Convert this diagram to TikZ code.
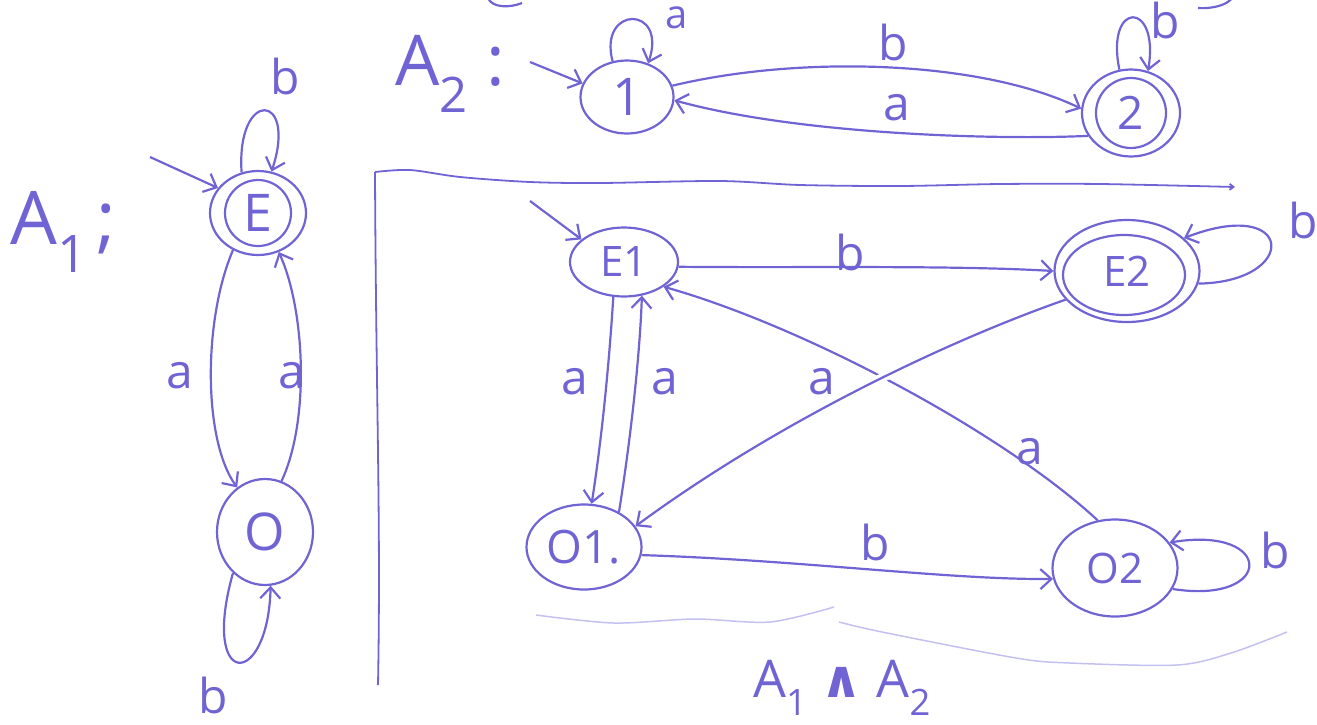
\documentclass[tikz,border=0pt]{standalone}
\usepackage{fontspec}
\setmainfont{Open Sans}
\newfontfamily\dejavu{DejaVu Sans}
\usetikzlibrary{arrows.meta,shapes.geometric}
\definecolor{hb}{RGB}{112,100,212}
\definecolor{hbl}{RGB}{196,192,240}
\begin{document}
\begin{tikzpicture}[x=1pt,y=-1pt,
  st/.style={ellipse, draw=hb, line width=2.2pt, inner sep=0pt, text=hb,
    font=\fontsize{42}{46}\selectfont},
  big/.style={font=\fontsize{52}{56}\selectfont},
  ring/.style={draw=hb, line width=2.2pt},
  edge/.style={draw=hb, line width=2.2pt, -{Straight Barb[length=11pt,width=20pt]}},
  lab/.style={text=hb, inner sep=0pt, font=\fontsize{48}{52}\selectfont},
  title/.style={text=hb, inner sep=0pt, anchor=west, font=\fontsize{74}{78}\selectfont}]
\useasboundingbox (0,0) rectangle (1317,724);

% ---------- A1 ----------
\node[title] (A1) at (10,232) {A\textsubscript{1}\hspace{0.12em};};
\node[st, big, minimum width=96, minimum height=84] (E) at (258,213) {E};
\draw[ring] (E.center) ellipse [x radius=33, y radius=33];
\node[st, big, minimum width=96, minimum height=106] (O) at (265,532) {O};
\coordinate (Ei) at (150,157);
\draw[edge] (Ei) -- (E.148);
\draw[edge] (E.112) .. controls (236,88) and (298,92) .. (E.72);
\node[lab] (lEE) at (285,76) {b};
\draw[edge] (E.236) .. controls (203,320) and (203,440) .. (O.122);
\node[lab] (lEO) at (180,376) {a};
\draw[edge] (O.72) .. controls (310,420) and (305,310) .. (E.298);
\node[lab] (lOE) at (292,376) {a};
\draw[edge] (O.232) .. controls (200,690) and (268,690) .. (O.276);
\node[lab] (lOO) at (213,695) {b};

% ---------- A2 ----------
\node[title, font=\fontsize{70}{74}\selectfont] (A2) at (395,74) {A\textsubscript{2} :};
\node[st, big, minimum width=93, minimum height=73] (S1) at (627,97) {1};
\node[st, font=\fontsize{46}{50}\selectfont, minimum width=98, minimum height=87] (S2) at (1131,113) {2};
\draw[ring] (S2.center) ellipse [x radius=35, y radius=35];
\coordinate (S1i) at (530,62);
\draw[edge] (S1i) -- (S1.163);
\draw[edge] (S1.112) .. controls (598,5) and (668,5) .. (S1.58);
\node[lab, font=\fontsize{40}{44}\selectfont] (l11) at (677,18) {a};
\draw[edge] (S1.14) .. controls (800,55) and (980,60) .. (S2.175);
\node[lab] (l12) at (893,42) {b};
\draw[edge] (S2.208) .. controls (1000,140) and (800,135) .. (S1.-4);
\node[lab] (l21) at (897,108) {a};
\draw[edge] (S2.105) .. controls (1105,0) and (1160,0) .. (S2.68);
\node[lab] (l22) at (1165,20) {b};
% cut-off strokes at the top edge
\draw[hb, line width=2.2pt] (488,-2) .. controls (492,8) and (510,8) .. (522,3);
\draw[hb, line width=2.2pt] (1198,8) .. controls (1215,9) and (1228,4) .. (1232,-2);

% ---------- divider ----------
\draw[hb, line width=1.8pt, -{Straight Barb[length=4pt,width=6pt]}] plot[smooth] coordinates
  {(375,172) (410,170) (460,177) (530,182) (600,183) (720,181) (800,185) (900,186) (1000,184) (1100,184) (1235,187)};
\draw[hb, line width=1.8pt] (375,172) .. controls (376,400) and (381,520) .. (378,685);

% ---------- product ----------
\node[st, minimum width=108, minimum height=69] (E1) at (624,262) {E1};
\node[st, font=\fontsize{46}{50}\selectfont, minimum width=115, minimum height=85] (O1) at (584,547) {O1.};
\node[st, minimum width=145, minimum height=102] (E2) at (1127,271) {E2};
\draw[ring] (1124,275) ellipse [x radius=61, y radius=40];
\node[st, minimum width=125, minimum height=97] (O2) at (1115,568) {O2};

\coordinate (E1i) at (530,201);
\draw[edge] (E1i) -- (E1.152);
\draw[edge] (E1.-5) .. controls (800,268) and (950,265) .. (E2.180);
\node[lab] (lE1E2) at (850,252) {b};
\draw[edge] (E1.253) .. controls (608,380) and (600,450) .. (O1.80);
\node[lab] (lE1O1) at (575,382) {a};
\draw[edge] (O1.45) .. controls (632,430) and (640,350) .. (E1.-62);
\node[lab] (lO1E1) at (665,382) {a};
\draw[edge] (O2.110) .. controls (1000,430) and (800,325) .. (E1.-32);
\node[lab] (lO2E1) at (1030,452) {a};
\begin{scope}
  \clip (882,377) circle (12);
  \draw[white, line width=9pt] (E2.205) .. controls (950,340) and (780,420) .. (O1.22);
\end{scope}
\draw[edge] (E2.205) .. controls (950,340) and (780,420) .. (O1.22);
\node[lab] (lE2O1) at (822,382) {a};
\draw[edge] (O1.-8) .. controls (800,560) and (950,580) .. (O2.190);
\node[lab] (lO1O2) at (875,542) {b};
\draw[edge] (E2.-10) .. controls (1300,282) and (1295,195) .. (E2.30);
\node[lab] (lE2E2) at (1303,220) {b};
\draw[edge] (O2.-20) .. controls (1275,605) and (1275,525) .. (O2.25);
\node[lab] (lO2O2) at (1275,550) {b};

% faint underlines
\draw[hbl, line width=1.5pt] plot[smooth] coordinates {(536,615) (614,623) (695,619) (770,622) (834,607)};
\draw[hbl, line width=1.5pt] plot[smooth] coordinates {(839,622) (882,632) (1016,658) (1070,663) (1177,665) (1231,653) (1287,632)};
\node[text=hb, inner sep=0pt, font=\fontsize{52}{56}\selectfont] (prod) at (842,688)
  {A\textsubscript{1} {\dejavu\bfseries ∧} A\textsubscript{2}};
\end{tikzpicture}
\end{document}
